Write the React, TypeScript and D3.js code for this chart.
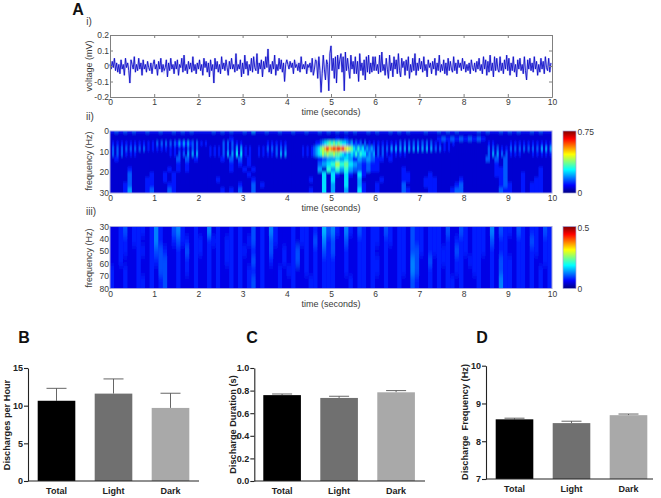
import * as d3 from "d3";
import { useEffect, useRef } from "react";

const timeTicks = [0, 1, 2, 3, 4, 5, 6, 7, 8, 9, 10];
const voltageTicks = [-0.2, -0.1, 0, 0.1, 0.2];
const lowFreqTicks = [0, 10, 20, 30];
const highFreqTicks = [30, 40, 50, 60, 70, 80];

// trace, in hundredths of a mV, 40 readings per second
const voltage = [
  1,-2,3,-1,5,-3,2,-4,1,-5,4,-2,1,-6,5,-1,2,-3,-11,4,1,-2,6,-4,1,-3,5,-2,2,-6,4,-2,1,-4,3,-1,-3,2,-5,1,
  4,-2,1,-6,3,-2,5,-4,1,-3,-1,4,-7,2,-3,5,-2,1,-5,3,-2,4,-6,1,-1,5,-4,7,-3,1,-5,3,-2,2,-4,6,-3,1,-5,2,
  -2,4,-3,1,-6,5,-1,3,-4,2,-7,4,-3,1,-11,5,-2,3,-4,1,-5,6,-2,2,-3,4,-1,-6,3,-2,5,-2,1,-4,8,-3,1,-2,4,-7,
  2,-5,7,-2,3,-6,1,-3,5,-4,6,-1,-3,8,-5,2,-2,4,-7,3,-2,6,-1,11,-4,1,-5,3,-2,7,-6,1,-3,5,-2,4,-4,2,-10,1,
  4,1,-2,3,-1,2,-5,4,-1,1,-3,2,-4,6,-2,1,-2,3,-5,1,-1,2,-4,5,-6,-2,4,3,-8,6,-3,-17,-5,7,-2,-9,4,1,-16,8,
  13,-3,5,-8,6,-11,7,-2,4,8,-4,6,-16,9,-3,5,-2,-8,7,-2,3,-5,6,-5,3,-10,8,-3,2,-6,4,-9,6,-4,7,-5,2,-4,6,-3,
  6,-3,1,-5,7,-4,9,-3,1,-6,5,-2,-8,7,-3,2,-7,6,-2,4,-5,8,-3,-7,5,-1,3,-6,4,-3,6,-8,1,-4,5,-3,8,-6,2,-3,
  5,-2,3,-4,6,-3,1,-7,4,-1,2,-5,3,-2,5,-6,2,-3,7,-4,1,-3,4,-5,2,-6,5,-3,3,-2,-4,6,-3,2,-5,4,-1,2,-3,5,
  -2,3,-4,1,-3,2,-5,4,-1,-3,2,-4,3,-2,5,-3,1,-5,6,-2,4,-6,3,-4,7,-3,2,-7,6,-3,5,-2,-4,6,-3,2,-5,4,-2,7,
  -3,5,-6,2,-3,6,-4,1,-7,4,-2,5,-3,1,-5,6,-3,-9,4,-2,5,-3,2,-4,6,-2,3,-6,1,-4,5,-2,3,-5,6,-1,-3,5,-4,2,
];

// panel ii: one string per frequency band, hex digits spread over 0-10 s, unit 0.05
// the three alpha bands carry twice the columns, to hold their 10 Hz fringes
const lowFreqEdges = [0, 1, 3, 5, 7.5, 10, 12.5, 15, 17.5, 20, 22.5, 25, 27.5, 30];
const lowFreqRows = [
  "2323232232 2322323232 2223232322 3242232232 2322322323 2323232232 3223232322 2322323232 2223232232 3232232322",
  "1111111111 1111111111 1111111111 1111111111 1111111111 1111111111 1111111111 1111111111 1111111111 1111111111",
  "1111111111 1111111111 1111111211 1111111111 1111111111 1212111111 1111111111 1111232323 2323211111 1111111111",
  "1212121212 1212121212 1313131313 2424242313 1212111111 1313131212 1111111111 1212121212 1111111111 1112234567 6767655434 2323131212 1212121212 1313131313 1313131212 1212121111 1111111111 1212111111 1212121212 1212121212",
  "1313131313 1313131212 1212121212 1212131313 1111121212 1313131414 1212111212 1313131313 1111111212 1234578aca bcbdbca987 5464534343 1313131414 1414141414 1414141313 1212111111 1111111111 1313131212 1313131313 1313141414",
  "1313131212 1211111111 1111111212 1313141414 1111121212 1314141515 1212111212 1212131414 1111111212 1234568787 7877654545 4646553434 1313121212 1212111111 1111111111 1111111111 1111111111 1314141313 1212121111 1212121212",
  "1211111111 1111131312 1111121313 1211111111 1111111234 4545424343 2212111111 1111111111 1111131313 1111111111",
  "1111111111 1111121211 1111111212 1211111111 1111111345 6867543232 2111111111 1111111111 1111111213 1111111111",
  "1111211111 1112121211 1111111211 2121111111 1111111416 4646433232 2111112111 1111111111 1111111223 1111111211",
  "1111311112 1121211111 1111111111 1211111111 1111111151 5215215211 1111112211 1121111111 1111111223 1112111211",
  "1111311122 1121211111 1111211111 1121111111 1111121151 5115114111 1211112211 1222111112 1111111123 1112112211",
  "1112311122 1112211111 1111111112 1131211111 1111111151 4115114211 2111113111 1222111123 1111111123 2112122211",
  "1112411123 1113211111 1111121213 1131111111 1111121151 4114115211 2111113211 1122111233 1111111132 2112122211",
];

// panel iii: one digit per 0.1 s, unit 0.025
const highFreqEdges = [30, 38, 46, 54, 62, 70, 80];
const highFreqRows = [
  "1123122212 4211342112 1141211212 1131214211 1212212153 4214213212 2132122132 2122213113 2122214132 2132122132",
  "1122122112 4211232212 2122212212 1231213211 1212213142 3113112212 2122122132 2122212122 2122213122 1122132122",
  "1122112212 3321121312 2121212212 2121213112 1231212132 3112112212 1121122133 2122222132 2122212122 1122122122",
  "1121112112 2331121212 1121212212 1131212112 1231212122 2112112212 2121122143 1131222122 1222112132 2122121122",
  "2112112112 1331121212 1121211212 1221211121 2211212122 2112112212 2121122143 1121212122 1122112132 2122121212",
  "2112112212 1231121112 1121211212 1231211121 1211122122 2111212212 1121121132 1121212212 1112112142 2122121212",
];

const groups = ["Total", "Light", "Dark"];
const barColors = ["#000000", "#707070", "#a9a9a9"];
const perHour = [10.65, 11.6, 9.7];
const perHourTop = [12.3, 13.55, 11.65];
const duration = [0.76, 0.735, 0.785];
const durationTop = [0.77, 0.75, 0.8];
const frequency = [8.58, 8.48, 8.69];
const frequencyTop = [8.61, 8.53, 8.72];

const jetStops = [
  [0, "#000080"],
  [0.125, "#0000ff"],
  [0.375, "#00ffff"],
  [0.625, "#ffff00"],
  [0.875, "#ff0000"],
  [1, "#800000"],
] as [number, string][];

const font = "Liberation Sans, Arial, sans-serif";
const grey = "#3a3a3a";

const App = () => {
  const svgRef = useRef<SVGSVGElement | null>(null);

  useEffect(() => {
    const svg = d3.select(svgRef.current);
    svg.selectAll("*").remove();
    svg.style("font-family", font);

    const left = 110;
    const right = 552;
    const x = d3.scaleLinear().domain([0, 10]).range([left, right]);

    const defs = svg.append("defs");
    const gradient = defs
      .append("linearGradient")
      .attr("id", "jet")
      .attr("x1", 0)
      .attr("x2", 0)
      .attr("y1", 1)
      .attr("y2", 0);
    jetStops.forEach(([o, c]) =>
      gradient.append("stop").attr("offset", o).attr("stop-color", c)
    );
    defs
      .append("filter")
      .attr("id", "smear")
      .attr("filterUnits", "userSpaceOnUse")
      .attr("x", 0)
      .attr("y", 0)
      .attr("width", 661)
      .attr("height", 498)
      .append("feGaussianBlur")
      .attr("stdDeviation", "0.7 1.5");
    defs
      .append("filter")
      .attr("id", "smearTall")
      .attr("filterUnits", "userSpaceOnUse")
      .attr("x", 0)
      .attr("y", 0)
      .attr("width", 661)
      .attr("height", 498)
      .append("feGaussianBlur")
      .attr("stdDeviation", "0.7 3.5");

    const label = (
      txt: string,
      px: number,
      py: number,
      size: number,
      opts: { weight?: string; anchor?: string; rotate?: boolean; fill?: string } = {}
    ) =>
      svg
        .append("text")
        .attr("transform", `translate(${px},${py})${opts.rotate ? " rotate(-90)" : ""}`)
        .attr("text-anchor", opts.anchor || "middle")
        .attr("dominant-baseline", "central")
        .attr("font-size", size)
        .attr("font-weight", opts.weight || "normal")
        .attr("fill", opts.fill || grey)
        .style("white-space", "pre")
        .text(txt);

    const timeAxis = (top: number, bottom: number) => {
      const gb = svg.append("g").attr("transform", `translate(0,${bottom})`);
      gb.call(d3.axisBottom(x).tickValues(timeTicks).tickFormat(d3.format("d")).tickSizeInner(-3).tickSizeOuter(0).tickPadding(2) as any);
      gb.select(".domain").attr("stroke", "#808080");
      gb.selectAll("line").attr("stroke", "#808080");
      gb.selectAll("text").attr("font-size", 8.5).attr("font-family", font).attr("fill", grey);
      const gt = svg.append("g").attr("transform", `translate(0,${top})`);
      gt.call(d3.axisTop(x).tickValues(timeTicks).tickFormat(() => "").tickSizeInner(-3).tickSizeOuter(0) as any);
      gt.select(".domain").attr("stroke", "#808080");
      gt.selectAll("line").attr("stroke", "#808080");
    };

    const yTickLabels = (y: d3.ScaleLinear<number, number>, ticks: number[]) =>
      ticks.forEach((t) => label(String(t), left - 1, y(t), 8.5, { anchor: "end" }));

    // panel i
    const traceTop = 35;
    const traceBottom = 97;
    const yVolt = d3.scaleLinear().domain([-0.2, 0.2]).range([traceBottom, traceTop]);
    const line = d3
      .line<number>()
      .x((_, i) => x((i / voltage.length) * 10))
      .y((d) => yVolt(d / 100));
    svg.append("path").datum(voltage).attr("d", line).attr("fill", "none").attr("stroke", "#9a9aee").attr("stroke-width", 2.2).attr("opacity", 0.5);
    svg.append("path").datum(voltage).attr("d", line).attr("fill", "none").attr("stroke", "#1010c8").attr("stroke-width", 0.9);
    timeAxis(traceTop, traceBottom);
    const yAxis = d3.axisLeft(yVolt).tickValues(voltageTicks).tickFormat(() => "").tickSizeInner(-3).tickSizeOuter(0);
    const ya = svg.append("g").attr("transform", `translate(${left},0)`).call(yAxis as any);
    ya.select(".domain").attr("stroke", "#808080");
    ya.selectAll("line").attr("stroke", "#808080");
    const yb = svg.append("g").attr("transform", `translate(${right},0)`).call(d3.axisRight(yVolt).tickValues(voltageTicks).tickFormat(() => "").tickSizeInner(-3).tickSizeOuter(0) as any);
    yb.select(".domain").attr("stroke", "#808080");
    yb.selectAll("line").attr("stroke", "#808080");
    yTickLabels(yVolt, voltageTicks);
    label("voltage (mV)", 89, 66, 9, { rotate: true });
    label("time (seconds)", 331, 112, 9);

    // panels ii and iii
    const heatmap = (
      id: string,
      rows: string[],
      edges: number[],
      unit: number,
      lift: number,
      maxValue: number,
      top: number,
      bottom: number,
      filter: string
    ) => {
      const y = d3.scaleLinear().domain([edges[0], edges[edges.length - 1]]).range([top, bottom]);
      const color = d3
        .scaleLinear<string>()
        .domain(jetStops.map((s) => s[0] * maxValue))
        .range(jetStops.map((s) => s[1]))
        .clamp(true);
      defs
        .append("clipPath")
        .attr("id", id)
        .append("rect")
        .attr("x", left)
        .attr("y", top)
        .attr("width", right - left)
        .attr("height", bottom - top);
      const clip = svg.append("g").attr("clip-path", `url(#${id})`);
      clip.append("rect").attr("x", left).attr("y", top).attr("width", right - left).attr("height", bottom - top).attr("fill", color(unit * (1 + lift)));
      const g = clip.append("g").attr("filter", `url(#${filter})`);
      rows.forEach((row, r) => {
        const cells = row.replace(/ /g, "").split("").map((c) => (parseInt(c, 16) + lift) * unit);
        const step = 10 / cells.length;
        g.selectAll(null)
          .data(cells)
          .enter()
          .append("rect")
          .attr("x", (_, i) => x(i * step) - 0.2)
          .attr("y", y(edges[r]) - (r === 0 ? 6 : 0.3))
          .attr("width", x(step) - x(0) + 0.4)
          .attr("height", y(edges[r + 1]) - y(edges[r]) + (r === 0 ? 6.3 : r === rows.length - 1 ? 8 : 0.6))
          .attr("fill", (d) => color(d));
      });
      svg.append("rect").attr("x", left).attr("y", top).attr("width", right - left).attr("height", bottom - top).attr("fill", "none").attr("stroke", "#a4a4dc").attr("stroke-width", 1);
      return y;
    };

    const colorBar = (top: number, bottom: number, maxLabel: string) => {
      svg.append("rect").attr("x", 563).attr("y", top).attr("width", 13).attr("height", bottom - top).attr("fill", "url(#jet)").attr("stroke", "#a4a4dc").attr("stroke-width", 0.7);
      label(maxLabel, 577.5, top + 1, 8.5, { anchor: "start" });
      label("0", 577.5, bottom, 8.5, { anchor: "start" });
    };

    const yLow = heatmap("clipLow", lowFreqRows, lowFreqEdges, 0.05, 0.2, 0.75, 131, 193, "smear");
    const tl = svg.append("g").attr("transform", "translate(0,193)");
    tl.call(d3.axisBottom(x).tickValues(timeTicks).tickFormat(d3.format("d")).tickSize(0).tickPadding(2) as any);
    tl.select(".domain").remove();
    tl.selectAll("text").attr("font-size", 8.5).attr("font-family", font).attr("fill", grey);
    yTickLabels(yLow, lowFreqTicks);
    label("frequency (Hz)", 89, 161, 9, { rotate: true });
    label("time (seconds)", 331, 208, 9);
    colorBar(131, 193, "0.75");

    const yHigh = heatmap("clipHigh", highFreqRows, highFreqEdges, 0.025, 1, 0.5, 226.5, 288.5, "smearTall");
    const th = svg.append("g").attr("transform", "translate(0,288.5)");
    th.call(d3.axisBottom(x).tickValues(timeTicks).tickFormat(d3.format("d")).tickSize(0).tickPadding(2) as any);
    th.select(".domain").remove();
    th.selectAll("text").attr("font-size", 8.5).attr("font-family", font).attr("fill", grey);
    yTickLabels(yHigh, highFreqTicks);
    label("frequency (Hz)", 89, 258, 9, { rotate: true });
    label("time (seconds)", 331, 304, 9);
    colorBar(226.5, 288.5, "0.5");

    label("A", 78, 9, 16, { weight: "bold", fill: "#111" });
    label("i)", 89, 21, 10);
    label("ii)", 90, 116, 10);
    label("iii)", 91, 211, 10);

    // bar panels
    const barPanel = (
      axisX: number,
      axisEnd: number,
      firstBar: number,
      baseY: number,
      topY: number,
      domain: [number, number],
      ticks: number[],
      fmt: (v: number) => string,
      values: number[],
      tops: number[],
      title: string,
      titleX: number,
      yText: string,
      yTextX: number,
      yTextY: number
    ) => {
      const bx = d3.scaleBand().domain(groups).range([firstBar - 9.7, firstBar - 9.7 + 171]).paddingInner(0.34).paddingOuter(0.17);
      const by = d3.scaleLinear().domain(domain).range([baseY, topY]);
      const g = svg.append("g");
      groups.forEach((name, i) => {
        const cx = (bx(name) || 0) + bx.bandwidth() / 2;
        g.append("line").attr("x1", cx).attr("x2", cx).attr("y1", by(values[i])).attr("y2", by(tops[i])).attr("stroke", "#555").attr("stroke-width", 0.9);
        g.append("line").attr("x1", cx - 10).attr("x2", cx + 10).attr("y1", by(tops[i])).attr("y2", by(tops[i])).attr("stroke", "#555").attr("stroke-width", 0.9);
        g.append("rect")
          .attr("x", bx(name) || 0)
          .attr("y", by(values[i]))
          .attr("width", bx.bandwidth())
          .attr("height", baseY - by(values[i]))
          .attr("fill", barColors[i]);
        label(name, cx, baseY + 9.5, 9, { weight: "bold", fill: "#222" });
      });
      const ay = svg.append("g").attr("transform", `translate(${axisX},0)`);
      ay.call(d3.axisLeft(by).tickValues(ticks).tickFormat(fmt as any).tickSize(4).tickSizeOuter(0).tickPadding(1) as any);
      ay.select(".domain").attr("stroke", "#222").attr("stroke-width", 1.1);
      ay.selectAll("line").attr("stroke", "#222").attr("stroke-width", 1.1);
      ay.selectAll("text").attr("font-size", 9).attr("font-weight", "bold").attr("font-family", font).attr("fill", "#222");
      svg.append("line").attr("x1", axisX).attr("x2", axisEnd).attr("y1", baseY).attr("y2", baseY).attr("stroke", "#222").attr("stroke-width", 1.1);
      label(title, titleX, 337, 16, { weight: "bold", fill: "#111" });
      label(yText, yTextX, yTextY, 9.2, { weight: "bold", rotate: true, fill: "#222" });
    };

    barPanel(28, 199, 37.7, 481, 368, [0, 15], [0, 5, 10, 15], (v) => String(v), perHour, perHourTop, "B", 24, "Discharges per Hour", 7, 425);
    barPanel(254.3, 425, 263.3, 481, 368, [0, 1], [0, 0.2, 0.4, 0.6, 0.8, 1], d3.format(".1f"), duration, durationTop, "C", 252, "Discharge Duration (s)", 233, 424.5);
    barPanel(486, 653, 495.7, 479, 365.7, [7, 10], [7, 8, 9, 10], (v) => String(v), frequency, frequencyTop, "D", 482, "Discharge  Frequency (Hz)", 465, 422);
  }, []);

  return (
    <svg
      ref={svgRef}
      width={661}
      height={498}
      style={{ position: "absolute", left: 0, top: 0, background: "#fff" }}
    />
  );
};

export default App;
